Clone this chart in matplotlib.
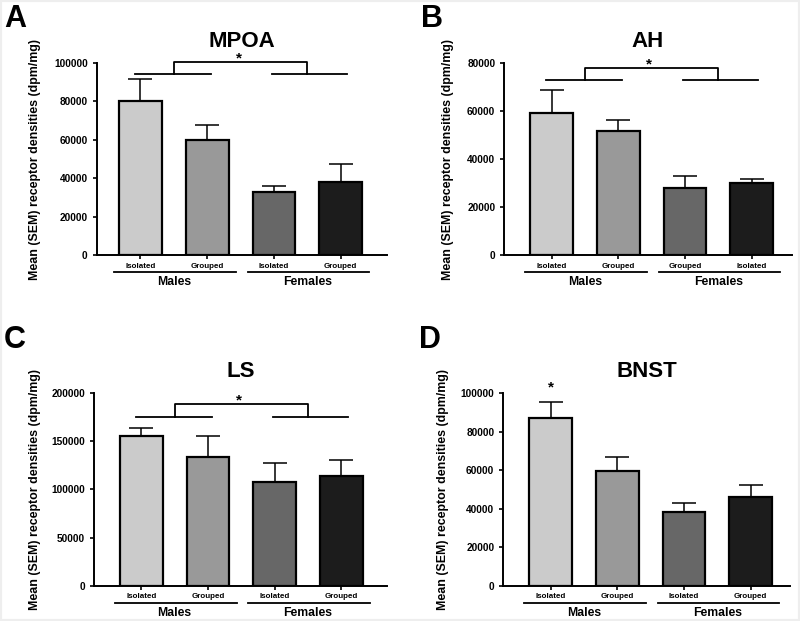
import matplotlib
matplotlib.use("Agg")
import matplotlib.pyplot as plt
from matplotlib.patches import Rectangle
from matplotlib.transforms import blended_transform_factory

plt.rcParams['font.family'] = ['Liberation Sans', 'DejaVu Sans']
plt.rcParams['font.weight'] = 'bold'

# ---------------- data ----------------
groups = ["Males", "Females"]
colors = ["#cbcbcb", "#999999", "#676767", "#1c1c1c"]

mpoa_labels = ["Isolated", "Grouped", "Isolated", "Grouped"]
mpoa_means = [80000, 60000, 33000, 37800]
mpoa_sem = [11500, 7600, 2800, 9600]

ah_labels = ["Isolated", "Grouped", "Grouped", "Isolated"]
ah_means = [59000, 51800, 28000, 29900]
ah_sem = [9500, 4400, 5100, 1700]

ls_labels = ["Isolated", "Grouped", "Isolated", "Grouped"]
ls_means = [155700, 134000, 107600, 114200]
ls_sem = [8300, 21000, 19700, 15900]

bnst_labels = ["Isolated", "Grouped", "Isolated", "Grouped"]
bnst_means = [87000, 59300, 38200, 46000]
bnst_sem = [8500, 7700, 4700, 6400]

W, H = 800, 621
fig = plt.figure(figsize=(8, 6.21), dpi=100)
fig.patches.append(Rectangle((0, 0), 1, 1, transform=fig.transFigure, fill=False,
                             edgecolor="#eeeeee", linewidth=3, zorder=0))


def px_axes(l, r, t, b):
    return fig.add_axes([l / W, 1 - b / H, (r - l) / W, (b - t) / H])


panels = [
    dict(letter="A", title="MPOA", box=(96.7, 387, 62.7, 255.3), xlim=(-0.655, 3.695),
         ylim=100000, step=20000, labels=mpoa_labels, means=mpoa_means, sem=mpoa_sem,
         letter_pos=(4, 27), ylab_x=35, bracket=(94100, 100500), star=(1.47, 100100)),
    dict(letter="B", title="AH", box=(504.3, 791.7, 62.7, 255.3), xlim=(-0.71, 3.6),
         ylim=80000, step=20000, labels=ah_labels, means=ah_means, sem=ah_sem,
         letter_pos=(421, 27), ylab_x=448, bracket=(72700, 77800), star=(1.465, 77800)),
    dict(letter="C", title="LS", box=(94.3, 386.7, 393, 585.7), xlim=(-0.705, 3.68),
         ylim=200000, step=50000, labels=ls_labels, means=ls_means, sem=ls_sem,
         letter_pos=(4, 348), ylab_x=35, bracket=(175400, 188600), star=(1.47, 188600)),
    dict(letter="D", title="BNST", box=(503.3, 790, 393, 585.7), xlim=(-0.71, 3.59),
         ylim=100000, step=20000, labels=bnst_labels, means=bnst_means, sem=bnst_sem,
         letter_pos=(419, 348), ylab_x=443, bracket=None, star=(0.0, 100900)),
]

for p in panels:
    l, r, t, b = p["box"]
    ax = px_axes(l, r, t, b)
    x = list(range(len(p["means"])))
    ax.bar(x, p["means"], width=0.64, color=colors, edgecolor="black",
           linewidth=1.6, zorder=3)
    ax.errorbar(x, p["means"], yerr=[[0] * len(x), p["sem"]], fmt="none",
                ecolor="black", elinewidth=1.1, capsize=8.5, capthick=1.1, zorder=2)
    ax.set_xlim(*p["xlim"])
    ax.set_ylim(0, p["ylim"])
    ax.set_yticks(range(0, p["ylim"] + 1, p["step"]))
    ax.set_yticklabels([str(v) for v in range(0, p["ylim"] + 1, p["step"])],
                       fontsize=7.3, fontweight="bold")
    ax.set_xticks(x)
    ax.set_xticklabels(p["labels"], fontsize=5.8, fontweight="bold")
    for s in ["top", "right"]:
        ax.spines[s].set_visible(False)
    for s in ["left", "bottom"]:
        ax.spines[s].set_linewidth(1.4)
    ax.tick_params(axis="y", length=3, width=1.2, pad=3.5)
    ax.tick_params(axis="x", length=3, width=1.2, pad=2.5)

    # group underlines and labels
    tr = blended_transform_factory(ax.transData, ax.transAxes)
    uy = -17 / (b - t)
    ly = -27 / (b - t)
    for gi, g in enumerate(groups):
        x0 = 2 * gi - 0.395
        x1 = 2 * gi + 1.43
        ax.plot([x0, x1], [uy, uy], color="black", lw=1.3, transform=tr, clip_on=False)
        ax.text(2 * gi + 0.5, ly, g, transform=tr, ha="center", va="center",
                fontsize=8.8, fontweight="bold")

    # bracket
    if p["bracket"] is not None:
        lo, hi = p["bracket"]
        ax.plot([-0.08, 1.055], [lo, lo], color="black", lw=1.3, clip_on=False)
        ax.plot([1.97, 3.1], [lo, lo], color="black", lw=1.3, clip_on=False)
        ax.plot([0.5, 0.5, 2.5, 2.5], [lo, hi, hi, lo], color="black", lw=1.3,
                clip_on=False)
    sx, sy = p["star"]
    ax.text(sx, sy, "*", ha="center", va="baseline", fontsize=11, fontweight="bold",
            clip_on=False)

    # title
    fig.text((l + r) / 2 / W, 1 - (t - 16) / H, p["title"], ha="center",
             va="baseline", fontsize=16, fontweight="bold")
    # y label
    fig.text(p["ylab_x"] / W, 1 - (t + b) / 2 / H,
             "Mean (SEM) receptor densities (dpm/mg)", rotation=90,
             ha="center", va="center", fontsize=8.9, fontweight="bold")
    # panel letter
    lx, ly_ = p["letter_pos"]
    fig.text(lx / W, 1 - ly_ / H, p["letter"], ha="left", va="baseline",
             fontsize=22, fontweight="bold")

fig.savefig("out.png", dpi=100)
